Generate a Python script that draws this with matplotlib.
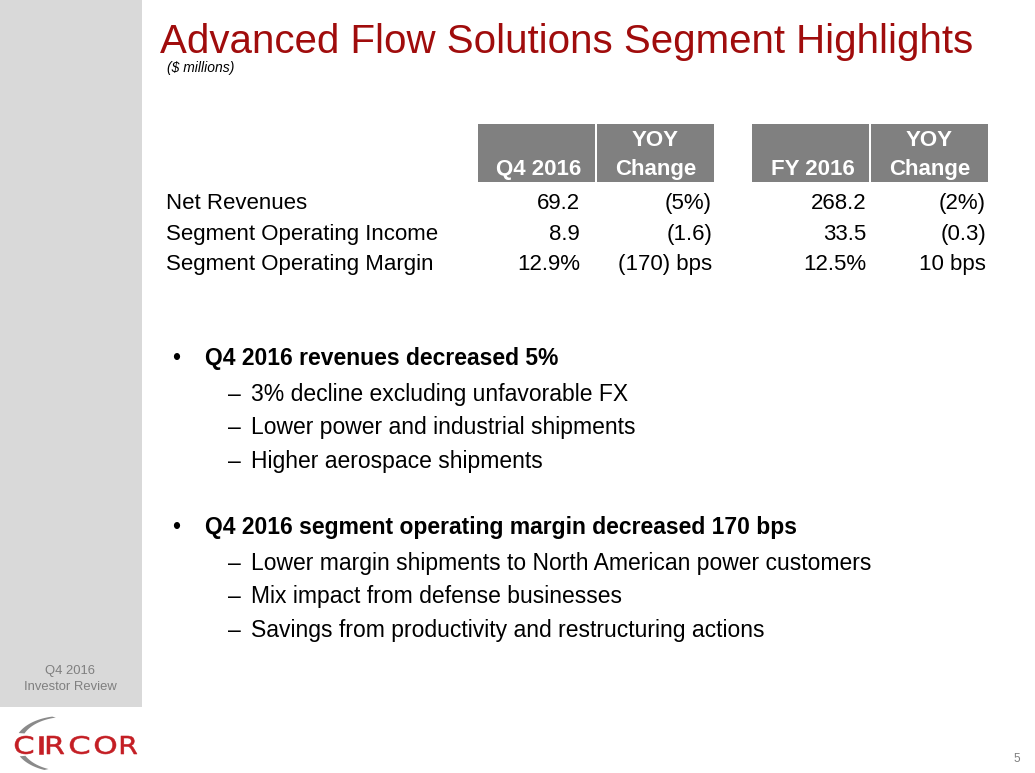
import matplotlib
matplotlib.use("Agg")
import matplotlib.pyplot as plt
import numpy as np
from matplotlib.patches import Rectangle, Polygon, PathPatch
from matplotlib.textpath import TextPath
from matplotlib.font_manager import FontProperties
from matplotlib.transforms import Affine2D

# ---- data ----
title = "Advanced Flow Solutions Segment Highlights"
subtitle = "($ millions)"
col_headers = [("", "Q4 2016"), ("YOY", "Change"), ("", "FY 2016"), ("YOY", "Change")]
row_labels = ["Net Revenues", "Segment Operating Income", "Segment Operating Margin"]
q4_2016 = ["69.2", "8.9", "12.9%"]
q4_yoy = ["(5%)", "(1.6)", "(170) bps"]
fy_2016 = ["268.2", "33.5", "12.5%"]
fy_yoy = ["(2%)", "(0.3)", "10 bps"]
bullets = [
    ("Q4 2016 revenues decreased 5%",
     ["3% decline excluding unfavorable FX",
      "Lower power and industrial shipments",
      "Higher aerospace shipments"]),
    ("Q4 2016 segment operating margin decreased 170 bps",
     ["Lower margin shipments to North American power customers",
      "Mix impact from defense businesses",
      "Savings from productivity and restructuring actions"]),
]
sidebar_text = ["Q4 2016", "Investor Review"]
logo_text = "CIRCOR"
page_no = "5"

# ---- styles ----
FONT = "Liberation Sans"
RED = "#A00C0C"
HDR = "#808080"
SIDE = "#D9D9D9"
LOGO_RED = "#C41E24"

W, H = 1035, 773
fig = plt.figure(figsize=(W / 100, H / 100), dpi=100)
ax = fig.add_axes([0, 0, 1, 1])
ax.set_xlim(0, W)
ax.set_ylim(H, 0)
ax.axis("off")

# sidebar
ax.add_patch(Rectangle((0, 0), 142, 707, facecolor=SIDE, edgecolor="none"))
ax.text(70, 674, sidebar_text[0], ha="center", va="baseline", fontsize=9.4,
        color="#7F7F7F", family=FONT)
ax.text(70, 690, sidebar_text[1], ha="center", va="baseline", fontsize=9.4,
        color="#7F7F7F", family=FONT)

# logo swoosh (tapered crescent, broken where it passes the first C)
def crescent(t0, t1):
    t = np.linspace(np.radians(t0), np.radians(t1), 80)
    outer = np.column_stack([62 + 47 * np.cos(t), 744 + 28 * np.sin(t)])
    inner = np.column_stack([65 + 44 * np.cos(t[::-1]), 744 + 27 * np.sin(t[::-1])])
    ax.add_patch(Polygon(np.vstack([outer, inner]), closed=True, facecolor="#8A8A8A",
                         edgecolor="none"))

crescent(112, 154)
crescent(203, 258)

# logo letters stretched to wide boxes
letter_boxes = [(15, 33), (39, 42.5), (47, 64), (70, 89), (95, 116), (121, 137)]
LOGO_TOP, LOGO_BOT = 736, 754
fp = FontProperties(family="DejaVu Sans", weight="normal")
for ch, (x0, x1) in zip(logo_text, letter_boxes):
    tp = TextPath((0, 0), ch, size=100, prop=fp)
    ext = tp.get_extents()
    sx = (x1 - x0) / ext.width
    sy = (LOGO_BOT - LOGO_TOP) / ext.height
    tr = Affine2D().translate(-ext.x0, -ext.y0).scale(sx, -sy).translate(x0, LOGO_BOT)
    ax.add_patch(PathPatch(tr.transform_path(tp), facecolor=LOGO_RED, edgecolor=LOGO_RED,
                           lw=0.4))

ax.text(1017, 762, page_no, ha="center", va="baseline", fontsize=8.5,
        color="#7F7F7F", family=FONT)

# title
ax.text(160, 53, title, ha="left", va="baseline", fontsize=29, color=RED, family=FONT)
ax.text(167, 72, subtitle, ha="left", va="baseline", fontsize=10, style="italic",
        color="#000000", family=FONT)

# table header
boxes = [(478, 595), (597, 714), (752, 869), (871, 988)]
for (x0, x1), (h1, h2) in zip(boxes, col_headers):
    ax.add_patch(Rectangle((x0, 124), x1 - x0, 58, facecolor=HDR, edgecolor="none"))
    if h1:
        ax.text((x0 + x1) / 2, 146, h1, ha="center", va="baseline", fontsize=16,
                fontweight="bold", color="white", family=FONT)
        ax.text((x0 + x1) / 2, 175, h2, ha="center", va="baseline", fontsize=16,
                fontweight="bold", color="white", family=FONT)
    else:
        ax.text(x1 - 14, 175, h2, ha="right", va="baseline", fontsize=16,
                fontweight="bold", color="white", family=FONT)

row_y = [209, 240, 270]
col_right = [580, 712, 866, 986]
cols = [q4_2016, q4_yoy, fy_2016, fy_yoy]
for i, lab in enumerate(row_labels):
    ax.text(166, row_y[i], lab, ha="left", va="baseline", fontsize=16, family=FONT)
    for cx, col in zip(col_right, cols):
        ax.text(cx, row_y[i], col[i], ha="right", va="baseline", fontsize=16, family=FONT)

# bullets
main_y = [365, 534]
sub_gap = 33.3
for (head, subs), by in zip(bullets, main_y):
    ax.text(172, by, "\u2022", ha="left", va="baseline", fontsize=16.5, family=FONT)
    ax.text(205, by, head, ha="left", va="baseline", fontsize=16.5, fontweight="bold",
            family=FONT)
    for j, s in enumerate(subs):
        yy = by + 36 + j * sub_gap
        ax.text(228, yy, "\u2013", ha="left", va="baseline", fontsize=16.5, family=FONT)
        ax.text(251, yy, s, ha="left", va="baseline", fontsize=16.5, family=FONT)

fig.savefig("out.png", dpi=100)
